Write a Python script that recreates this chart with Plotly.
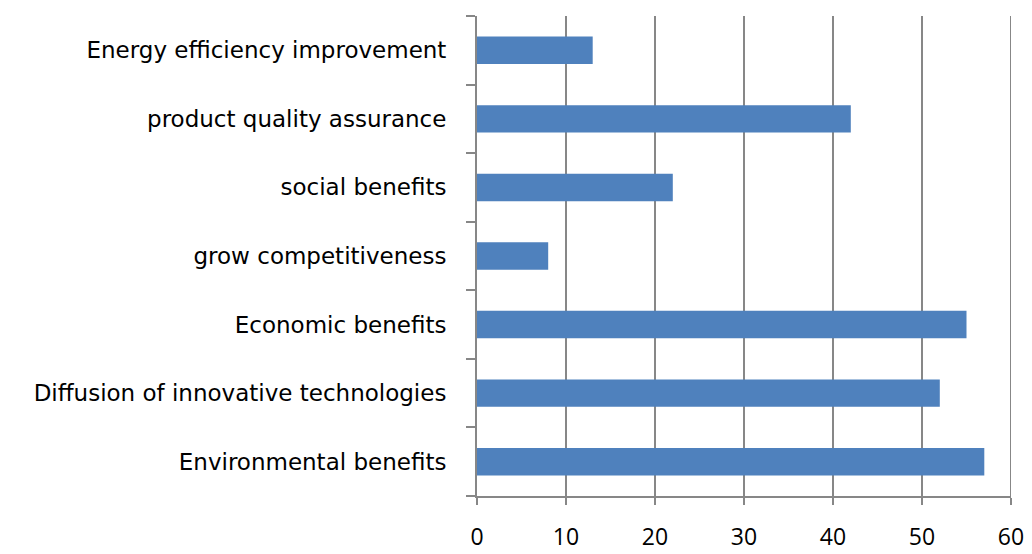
import plotly.graph_objects as go

categories = [
    "Environmental benefits",
    "Diffusion of innovative technologies",
    "Economic benefits",
    "grow competitiveness",
    "social benefits",
    "product quality assurance",
    "Energy efficiency improvement",
]
values = [57, 52, 55, 8, 22, 42, 13]
x_ticks = [0, 10, 20, 30, 40, 50, 60]

fig = go.Figure(go.Bar(
    x=values, y=categories, orientation="h",
    marker=dict(color="#4F81BD", line=dict(width=0)),
))

grey = "#878787"
fig.update_layout(
    width=1032, height=554,
    margin=dict(l=477, r=21, t=16, b=58),
    paper_bgcolor="white", plot_bgcolor="white",
    bargap=0.6, showlegend=False,
    font=dict(family="Open Sans", color="black"),
)
# gridline at the right-hand end of the axis (Plotly skips the edge gridline)
fig.add_shape(type="line", xref="x", yref="paper",
              x0=x_ticks[-1], x1=x_ticks[-1], y0=0, y1=1,
              line=dict(color=grey, width=2), layer="below")
fig.update_xaxes(
    range=[x_ticks[0], x_ticks[-1]], tickvals=x_ticks,
    ticktext=[str(v) for v in x_ticks],
    showgrid=True, gridcolor=grey, gridwidth=2,
    showline=True, linecolor=grey, linewidth=2,
    ticks="outside", ticklen=7, tickcolor=grey, tickwidth=2,
    tickfont=dict(size=23, family="Open Sans"),
    ticklabelstandoff=12, zeroline=False, automargin=False,
)
fig.update_yaxes(
    categoryorder="array", categoryarray=categories,
    range=[-0.5, 6.5],
    showline=True, linecolor=grey, linewidth=2,
    ticks="outside", ticklen=9, tickcolor=grey, tickwidth=2,
    tickson="boundaries",
    tickfont=dict(size=23, family="DejaVu Sans"),
    ticklabelstandoff=24, showgrid=False, automargin=False,
)

fig.write_html("out.html")
